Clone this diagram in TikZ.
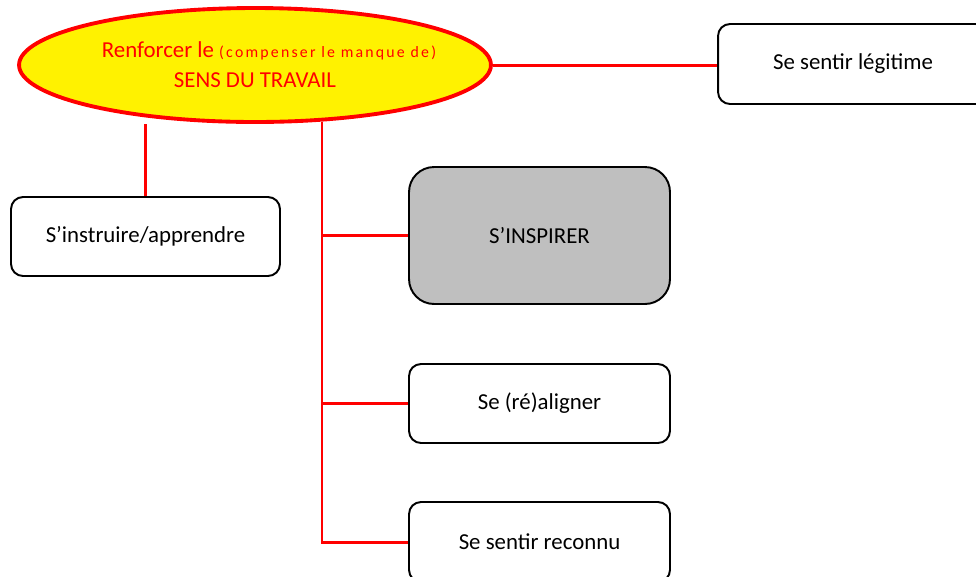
\documentclass[tikz,border=0pt]{standalone}
\usepackage{fontspec}
\setmainfont{Carlito}
\usetikzlibrary{shapes.geometric,backgrounds}
\definecolor{boxgray}{HTML}{BFBFBF}
\tikzset{
    sensgoal/.style={ellipse, draw=red, line width=2.2pt, fill=yellow,
        inner sep=0pt, minimum width=9.44cm, minimum height=2.28cm},
    senstext/.style={text=red, align=center, inner sep=0pt},
    action/.style={draw=black, line width=1.1pt, rounded corners=2.4mm,
        fill=white, minimum width=5.38cm, minimum height=1.58cm,
        font=\fontsize{13}{15}\selectfont},
    link/.style={draw=red, line width=1.7pt}
}
\begin{document}
\begin{tikzpicture}[x=0.02cm, y=-0.02cm]
                \useasboundingbox (0,0) rectangle (976,576);

                %Draw the central goal
                \node[sensgoal] (sens) at (255,65) {};
                \node[senstext] (sensl) at (sens.center)
                    {\fontsize{13}{16.5}\selectfont\hspace*{0.56cm}Renforcer le
                     {\fontsize{9}{11}\selectfont\addfontfeature{LetterSpace=14}(compenser le manque de)}\\[5pt]
                     \fontsize{13}{16.5}\selectfont SENS DU TRAVAIL};

                %Draw the action boxes
                \node[action, minimum width=5.4cm, minimum height=1.6cm] (legit) at (853,64) {Se sentir légitime};
                \node[action] (instruire) at (145.5,236.5) {S’instruire/apprendre};
                \node[action, fill=boxgray, rounded corners=5mm, minimum width=5.22cm,
                    minimum height=2.74cm] (inspirer) at (539.5,235.5) {S’INSPIRER};
                \node[action, minimum width=5.22cm] (aligner) at (539.5,403.5) {Se (ré)aligner};
                \node[action, minimum width=5.22cm, minimum height=1.6cm] (reconnu) at (539.5,542) {Se sentir reconnu};

                %Draw the red links
                \coordinate (trunk) at (322,122);
                \begin{scope}[on background layer]
                    \draw[link] (sens.east) -- (sens.east -| legit.west);
                    \draw[link] (instruire.north) -- (instruire.north |- sens.south);
                    \draw[link] (trunk) |- (reconnu.west);
                    \draw[link] (inspirer.west) -- (inspirer.west -| trunk);
                    \draw[link] (aligner.west) -- (aligner.west -| trunk);
                \end{scope}

            \end{tikzpicture}
\end{document}
